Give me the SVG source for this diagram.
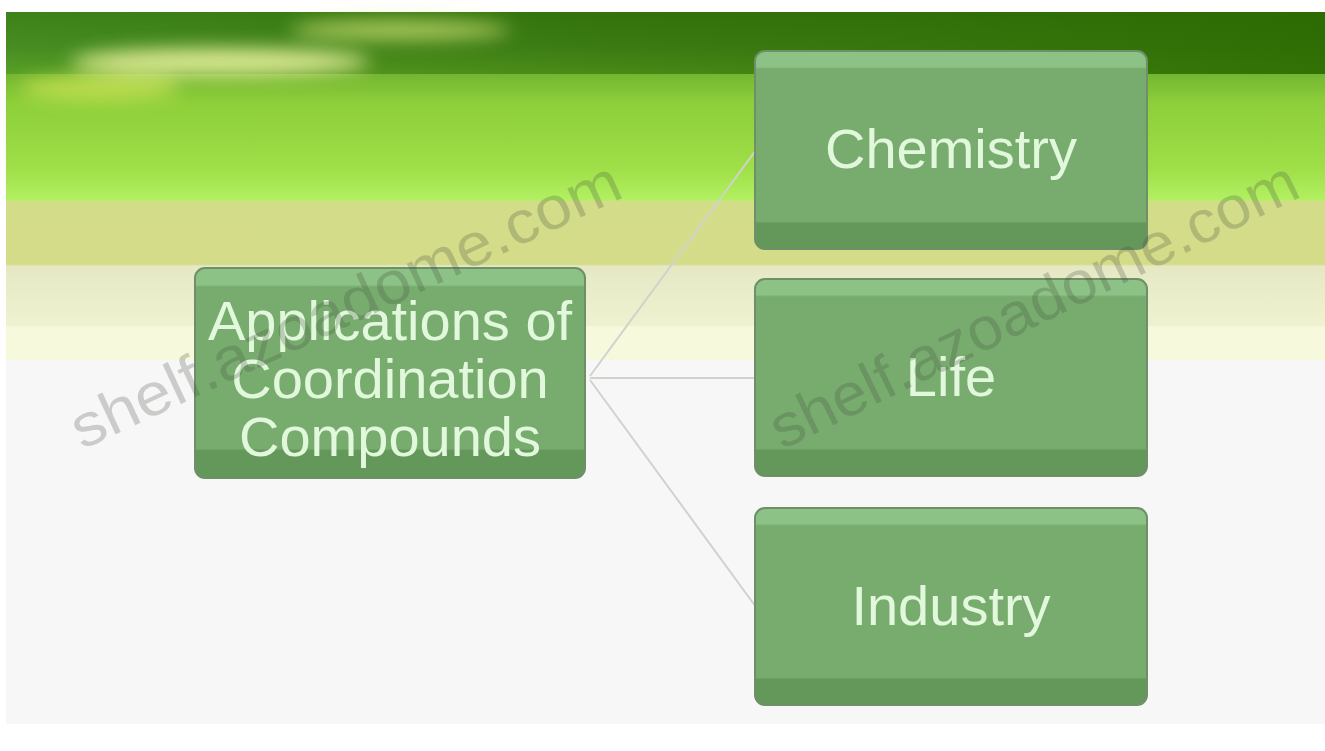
<svg xmlns="http://www.w3.org/2000/svg" width="1325" height="751" viewBox="0 0 1325 751">
  <defs>
    <linearGradient id="banner" x1="0" y1="12" x2="0" y2="360" gradientUnits="userSpaceOnUse">
      <stop offset="0" stop-color="#3b7a16"/>
      <stop offset="0.1" stop-color="#4f8f28"/>
      <stop offset="0.18" stop-color="#74b631"/>
      <stop offset="0.26" stop-color="#8dcf3a"/>
      <stop offset="0.45" stop-color="#9fdf48"/>
      <stop offset="0.54" stop-color="#b2f062"/>
      <stop offset="0.545" stop-color="#d3dc88"/>
      <stop offset="0.725" stop-color="#d4dc8a"/>
      <stop offset="0.73" stop-color="#e5e8c3"/>
      <stop offset="0.9" stop-color="#eef2d0"/>
      <stop offset="0.905" stop-color="#f6f9dc"/>
      <stop offset="1" stop-color="#f6f9dc"/>
    </linearGradient>
    <linearGradient id="topdark" x1="0" y1="0" x2="1" y2="0">
      <stop offset="0" stop-color="#3d8a1c" stop-opacity="0.5"/>
      <stop offset="0.45" stop-color="#2e6d05" stop-opacity="0.6"/>
      <stop offset="1" stop-color="#2a6a00" stop-opacity="0.9"/>
    </linearGradient>
    <linearGradient id="box" x1="0" y1="0" x2="0" y2="1">
      <stop offset="0" stop-color="#8cc285"/>
      <stop offset="0.08" stop-color="#8cc285"/>
      <stop offset="0.09" stop-color="#78ac6e"/>
      <stop offset="0.86" stop-color="#78ac6e"/>
      <stop offset="0.87" stop-color="#64985a"/>
      <stop offset="1" stop-color="#64985a"/>
    </linearGradient>
    <filter id="blur" x="-20%" y="-50%" width="140%" height="200%">
      <feGaussianBlur stdDeviation="9"/>
    </filter>
    <style>
      .node rect { fill: url(#box); stroke: #6f8f68; stroke-width: 2; }
      .node text { font-family: "Liberation Sans", Arial, sans-serif; font-size: 56px; fill: #e2f8dc; text-anchor: middle; }
      .conn line { stroke: #cfd3cc; stroke-width: 2; }
      .wm { font-family: "Liberation Sans", Arial, sans-serif; font-size: 60px; fill: #404a3a; fill-opacity: 0.25; }
    </style>
  </defs>

  <!-- page -->
  <rect x="0" y="0" width="1325" height="751" fill="#ffffff"/>
  <rect x="6" y="12" width="1319" height="712" fill="#f7f7f7"/>
  <!-- banner -->
  <rect x="6" y="12" width="1319" height="348" fill="url(#banner)"/>
  <rect x="6" y="12" width="1319" height="62" fill="url(#topdark)"/>
  <g filter="url(#blur)">
    <ellipse cx="220" cy="62" rx="150" ry="14" fill="#e6f09a" opacity="0.9"/>
    <ellipse cx="400" cy="30" rx="110" ry="10" fill="#d8e87a" opacity="0.7"/>
    <ellipse cx="100" cy="88" rx="80" ry="12" fill="#d7e85a" opacity="0.7"/>
  </g>

  <!-- connectors -->
  <g id="connectors" class="conn">
    <line x1="590" y1="376" x2="756" y2="150"/>
    <line x1="590" y1="378" x2="756" y2="378"/>
    <line x1="590" y1="380" x2="756" y2="607"/>
  </g>

  <!-- nodes -->
  <g id="node-root" class="node">
    <rect x="195" y="268" width="390" height="210" rx="10"/>
    <text x="390" y="340">Applications of</text>
    <text x="390" y="398">Coordination</text>
    <text x="390" y="456">Compounds</text>
  </g>
  <g id="node-chemistry" class="node">
    <rect x="755" y="51" width="392" height="198" rx="10"/>
    <text x="951" y="168">Chemistry</text>
  </g>
  <g id="node-life" class="node">
    <rect x="755" y="279" width="392" height="197" rx="10"/>
    <text x="951" y="396">Life</text>
  </g>
  <g id="node-industry" class="node">
    <rect x="755" y="508" width="392" height="197" rx="10"/>
    <text x="951" y="625">Industry</text>
  </g>

  <!-- watermarks -->
  <text class="wm" transform="translate(82,450) rotate(-25)" textLength="600" lengthAdjust="spacingAndGlyphs">shelf.azoadome.com</text>
  <text class="wm" transform="translate(782,450) rotate(-26)" textLength="580" lengthAdjust="spacingAndGlyphs">shelf.azoadome.com</text>
</svg>
